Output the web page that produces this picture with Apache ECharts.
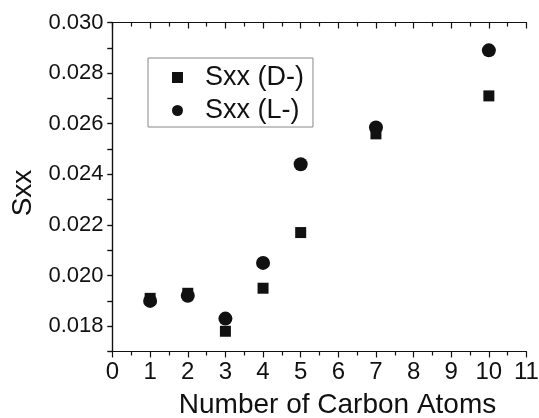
<!DOCTYPE html>
<html><head><meta charset="utf-8">
<script src="https://cdn.jsdelivr.net/npm/echarts@6/dist/echarts.min.js"></script>
<style>html,body{margin:0;padding:0;background:#fff}#c{width:539px;height:418px}</style>
</head><body><div id="c"></div>
<script>
const carbonAtoms = [1, 2, 3, 4, 5, 7, 10];
const sxxD = [0.0191, 0.0193, 0.0178, 0.0195, 0.0217, 0.0256, 0.0271];
const sxxL = [0.0190, 0.0192, 0.0183, 0.0205, 0.0244, 0.02585, 0.0289];
const xTickLabels = ['0','1','2','3','4','5','6','7','8','9','10','11'];
const yTickLabels = ['0.018','0.020','0.022','0.024','0.026','0.028','0.030'];

const FONT = 'Liberation Sans';
const chart = echarts.init(document.getElementById('c'), null, {renderer: 'canvas'});
const axisLine = {show: true, lineStyle: {color: '#111', width: 1.2}};
chart.setOption({
  animation: false,
  backgroundColor: '#fff',
  grid: {left: 112.5, right: 12.5, top: 22.5, bottom: 66.5, containLabel: false, outerBoundsMode: 'none'},
  legend: {
    left: 148, top: 58, orient: 'vertical',
    borderColor: '#888', borderWidth: 1,
    padding: [6, 9, 3, 24],
    itemWidth: 11, itemHeight: 11, itemGap: 6,
    itemStyle: {color: '#111', opacity: 1},
    textStyle: {fontFamily: FONT, fontSize: 27, color: '#111', padding: [0, 0, 0, 17]},
    data: [{name: 'Sxx (D-)', icon: 'rect'}, {name: 'Sxx (L-)', icon: 'circle'}]
  },
  xAxis: [{
    type: 'value', position: 'bottom', min: 0, max: 11, interval: 1,
    axisLine: axisLine,
    axisTick: {show: true, inside: false, length: 6, lineStyle: {color: '#111', width: 1.2}},
    minorTick: {show: true, splitNumber: 2, length: 4, lineStyle: {color: '#111', width: 1.2}},
    splitLine: {show: false},
    axisLabel: {fontFamily: FONT, fontSize: 24, color: '#111', margin: 9,
      formatter: v => xTickLabels[Math.round(v)] || ''},
    name: 'Number of Carbon Atoms', nameLocation: 'middle', nameGap: 40,
    nameTextStyle: {fontFamily: FONT, fontSize: 28, color: '#111', padding: [0, 0, 0, 36]}
  }, {
    type: 'value', position: 'top', min: 0, max: 11, interval: 1,
    axisLine: axisLine,
    axisTick: {show: true, inside: true, length: 6, lineStyle: {color: '#111', width: 1.2}},
    minorTick: {show: true, splitNumber: 2, length: 4, lineStyle: {color: '#111', width: 1.2}},
    splitLine: {show: false}, axisLabel: {show: false}
  }],
  yAxis: [{
    type: 'value', position: 'left', min: 0.017, max: 0.030, interval: 0.001,
    axisLine: axisLine,
    axisTick: {show: true, inside: false, length: 5, lineStyle: {color: '#111', width: 1.2}},
    splitLine: {show: false},
    axisLabel: {fontFamily: FONT, fontSize: 22, color: '#111', margin: 9,
      formatter: v => { const s = v.toFixed(3); return yTickLabels.includes(s) ? s : ''; }},
    name: 'Sxx', nameLocation: 'middle', nameGap: 72, nameRotate: 90,
    nameTextStyle: {fontFamily: FONT, fontSize: 28, color: '#111', padding: [0, 12, 0, 0]}
  }, {
    type: 'value', position: 'right', min: 0.017, max: 0.030, interval: 0.001,
    axisLine: axisLine,
    axisTick: {show: true, inside: true, length: 5, lineStyle: {color: '#111', width: 1.2}},
    splitLine: {show: false}, axisLabel: {show: false}
  }],
  series: [{
    name: 'Sxx (D-)', type: 'scatter', symbol: 'rect', symbolSize: 11,
    itemStyle: {color: '#111', opacity: 1},
    data: carbonAtoms.map((c, i) => [c, sxxD[i]])
  }, {
    name: 'Sxx (L-)', type: 'scatter', symbol: 'circle', symbolSize: 14,
    itemStyle: {color: '#111', opacity: 1},
    data: carbonAtoms.map((c, i) => [c, sxxL[i]])
  }]
});
</script>
</body></html>
